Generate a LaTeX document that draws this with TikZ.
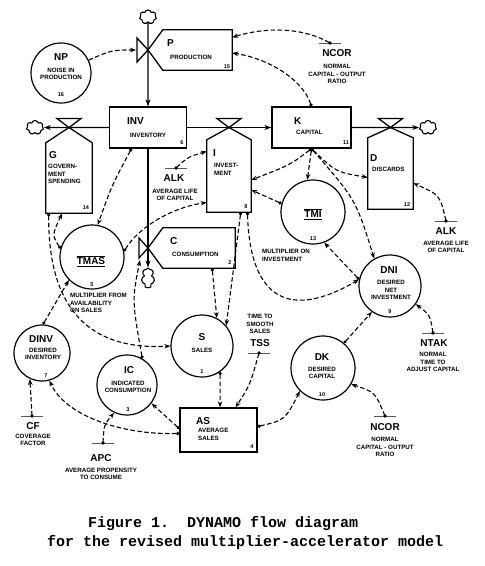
\documentclass[tikz,border=0pt]{standalone}
\usepackage{fontspec}
\setmainfont{Liberation Sans}
\setmonofont{Liberation Mono}
\usepackage{tikz}
\usetikzlibrary{arrows.meta,shapes.symbols}

\tikzset{
  lev/.style={draw,line width=1.3pt,inner sep=0pt},
  aux/.style={draw,circle,line width=1.2pt,inner sep=0pt},
  rate/.style={inner sep=0pt},
  cld/.style={cloud,draw,line width=1.1pt,cloud puffs=7,cloud ignores aspect,inner sep=0pt,minimum width=17pt,minimum height=14pt},
  cst/.style={draw,line width=1pt,minimum width=22pt,minimum height=0pt,inner sep=0pt},
  pipe/.style={line width=1.3pt},
  info/.style={line width=1.1pt,dash pattern=on 4.5pt off 2.5pt,arrows={-Stealth[length=6pt,width=4.5pt]}},
  src/.style={info,arrows={Circle[length=3.2pt]-Stealth[length=6pt,width=4.5pt]}},
  nm/.style={font=\fontsize{10}{10}\selectfont\bfseries,inner sep=0pt},
  ds/.style={font=\fontsize{6.2}{7.6}\selectfont\bfseries,align=center,inner sep=0pt},
  no/.style={font=\fontsize{5.5}{6}\selectfont\bfseries,inner sep=0pt},
  captext/.style={font=\fontsize{15}{15}\selectfont\ttfamily\bfseries,inner sep=0pt,anchor=west}
}

\begin{document}
\begin{tikzpicture}[x=1pt,y=-1pt,>=Stealth]
\useasboundingbox (0,0) rectangle (485,566);
\node[cld] (cT) at (148,17) {};
\node[cld] (cL) at (35,127.5) {};
\node[cld] (cR) at (428,127.5) {};
\node[cld,minimum width=13pt,minimum height=20pt] (cB) at (148,278) {};

\node[lev,minimum width=77pt,minimum height=41pt] (INV) at (148,127.5) {};
\node[lev,minimum width=79pt,minimum height=41pt] (K) at (311.5,127.5) {};
\node[lev,minimum width=77pt,minimum height=44pt] (AS) at (218.5,430) {};

\node[rate,minimum width=69pt,minimum height=40pt] (P) at (197.5,50) {};
\node[rate,minimum width=72pt,minimum height=40pt] (C) at (199,248) {};
\node[rate,minimum width=46pt,minimum height=70pt] (G) at (69,178) {};
\node[rate,minimum width=44pt,minimum height=72pt] (I) at (229,176) {};
\node[rate,minimum width=45pt,minimum height=71pt] (D) at (390.5,173.5) {};
\coordinate (vP) at (148,50);
\coordinate (vC) at (148,248);
\coordinate (vG) at (69,127.5);
\coordinate (vI) at (229,127.5);
\coordinate (vD) at (390.5,127.5);
\coordinate (vPin) at (136,50);
\coordinate (vCin) at (140,260);

\foreach \r in {P,C}
  \draw[pipe] (v\r) -- (\r.north west) -- (\r.north east) -- (\r.south east) -- (\r.south west) -- cycle;
\foreach \r in {G,I,D}
  \draw[pipe] (v\r) -- (\r.north east) -- (\r.south east) -- (\r.south west) -- (\r.north west) -- cycle;
\draw[pipe] (vP) -- ++(-11,-12) -- ++(0,24) -- cycle;
\draw[pipe] (vC) -- ++(-9,-10) -- ++(0,20) -- cycle;
\foreach \r in {G,I,D}
  \draw[pipe] (v\r) -- ++(-12,-9) -- ++(24,0) -- cycle;

\draw[pipe,-{Stealth[length=7pt,width=5pt]}] (cT) -- (INV);
\draw[pipe,-{Stealth[length=7pt,width=5pt]}] (INV) -- (cL);
\draw[pipe,-{Stealth[length=7pt,width=5pt]}] (INV) -- (K);
\draw[pipe,-{Stealth[length=7pt,width=5pt]}] (K) -- (cR);
\draw[pipe,-{Stealth[length=7pt,width=5pt]}] (INV) -- (cB);

\node[aux,minimum size=60pt] (NP) at (61,73) {};
\node[aux,minimum size=64pt] (TMAS) at (92,257) {};
\node[aux,minimum size=64pt] (TMI) at (313,212) {};
\node[aux,minimum size=62pt] (DNI) at (390,286) {};
\node[aux,minimum size=56pt] (DINV) at (42,353) {};
\node[aux,minimum size=62pt] (S) at (202,346) {};
\node[aux,minimum size=60pt] (IC) at (127,385) {};
\node[aux,minimum size=64pt] (DK) at (323,368) {};

\node[cst] (NCORa) at (330,43) {};
\node[cst] (ALKa) at (176,168) {};
\node[cst] (ALKb) at (446,221) {};
\node[cst] (NTAK) at (433,333) {};
\node[cst] (TSS) at (259,353) {};
\node[cst] (NCORb) at (385,416) {};
\node[cst] (CF) at (32,416) {};
\node[cst] (APC) at (103,443) {};
\foreach \c in {NCORa,ALKa,ALKb,NTAK,TSS,NCORb,CF,APC}
  \fill (\c) circle (1.8pt);

\draw[info] (NP.25) .. controls (112,50) .. (vPin);
\draw[info] (NCORa) .. controls (300,26) and (262,28) .. (P.20);
\draw[src] (K.north) .. controls (302,78) and (266,58) .. (P.-5);
\draw[info] (ALKa) .. controls (188,157) .. (I.132);
\draw[src] (K.south) .. controls (290,165) .. (I.-10);
\draw[src] (K.south) -- (TMI.100);
\draw[src] (K.south) .. controls (336,172) .. (D.190);
\draw[src] (K.south) .. controls (356,200) .. (DNI.120);
\draw[info] (ALKb) .. controls (440,195) .. (D.-23);
\draw[src] (TMI.165) -- (I.-32);
\draw[src] (DNI.168) -- (TMI.-70);
\draw[src] (I.-63) .. controls (250,300) and (290,320) .. (DNI.168);
\draw[src] (I.-72) -- (S.40);
\draw[src] (C.-57) -- (S.62);
\draw[src] (G.-120) .. controls (48,320) and (100,350) .. (S.180);
\draw[src] (TMAS.165) .. controls (52,235) .. (G.-101);
\draw[src] (INV.-128) .. controls (112,185) .. (TMAS.80);
\draw[src] (TMAS.10) .. controls (138,228) and (170,208) .. (I.230);
\draw[src] (DINV.88) -- (TMAS.225);
\draw[src] (IC.60) .. controls (132,300) .. (vCin);
\draw[info] (CF) -- (DINV.245);
\draw[info] (APC) .. controls (104,425) .. (IC.245);
\draw[src] (S.-55) -- (AS.86);
\draw[info] (TSS) .. controls (250,385) .. (AS.53);
\draw[src] (AS.178) -- (IC.-37);
\draw[src] (AS.185) .. controls (120,435) and (65,415) .. (DINV.-75);
\draw[src] (AS.5) .. controls (285,420) .. (DK.225);
\draw[src] (DK.50) -- (DNI.235);
\draw[info] (NCORb) .. controls (375,392) .. (DK.-30);
\draw[info] (NTAK) .. controls (430,315) .. (DNI.-35);

\node[nm] (NPa) at (61,57) {NP};
\node[ds] (NPb) at (61,74) {NOISE IN\\PRODUCTION};
\node[no] (NPc) at (61,95) {16};
\node[nm,anchor=west] (Pa) at (167,43) {P};
\node[ds,anchor=west] (Pb) at (170,57) {PRODUCTION};
\node[no] (Pc) at (227,67) {15};
\node[nm,anchor=west] (INVa) at (127,121) {INV};
\node[ds,anchor=west] (INVb) at (130,135) {INVENTORY};
\node[no] (INVc) at (182,143) {6};
\node[nm,anchor=west] (Ka) at (294,121) {K};
\node[ds,anchor=west] (Kb) at (296,132) {CAPITAL};
\node[no] (Kc) at (346,143) {11};
\node[nm,anchor=west] (Ga) at (49,155) {G};
\node[ds,anchor=north west,align=left] (Gb) at (48,164) {GOVERN-\\MENT\\SPENDING};
\node[no] (Gc) at (86,208) {14};
\node[nm,anchor=west] (Ia) at (213,153) {I};
\node[ds,anchor=north west,align=left] (Ib) at (214,163) {INVEST-\\MENT};
\node[no] (Ic) at (246,207) {8};
\node[nm,anchor=west] (Da) at (370,158) {D};
\node[ds,anchor=west] (Db) at (372,169) {DISCARDS};
\node[no] (Dc) at (407,205) {12};
\node[nm,anchor=west] (Ca) at (170,241) {C};
\node[ds,anchor=west] (Cb) at (172,254) {CONSUMPTION};
\node[no] (Cc) at (230,263) {2};
\node[nm,anchor=west] (ASa) at (196,421) {AS};
\node[ds,anchor=north west,align=left] (ASb) at (198,428) {AVERAGE\\SALES};
\node[no] (ASc) at (252,447) {4};

\node[nm] (TMASa) at (91,261) {$\overline{\underline{\hbox{TMAS}}}$};
\node[no] (TMASc) at (92,285) {5};
\node[ds,anchor=north west,align=left] (TMASb) at (70,293) {MULTIPLIER FROM\\AVAILABILITY\\ON SALES};
\node[nm] (TMIa) at (313,214) {$\overline{\underline{\hbox{TMI}}}$};
\node[no] (TMIc) at (313,239) {13};
\node[ds,anchor=north west,align=left] (TMIb) at (262,249) {MULTIPLIER ON\\INVESTMENT};
\node[nm] (DNIa) at (389,270) {DNI};
\node[ds] (DNIb) at (391,290) {DESIRED\\NET\\INVESTMENT};
\node[no] (DNIc) at (390,312) {9};
\node[nm] (DINVa) at (41,339) {DINV};
\node[ds] (DINVb) at (43,354) {DESIRED\\INVENTORY};
\node[no] (DINVc) at (46,376) {7};
\node[nm] (Sa) at (202,337) {S};
\node[ds] (Sb) at (202,350) {SALES};
\node[no] (Sc) at (202,372) {1};
\node[nm] (ICa) at (129,370) {IC};
\node[ds] (ICb) at (128,387) {INDICATED\\CONSUMPTION};
\node[no] (ICc) at (128,410) {3};
\node[nm] (DKa) at (322,357) {DK};
\node[ds] (DKb) at (322,373) {DESIRED\\CAPITAL};
\node[no] (DKc) at (322,395) {10};

\node[nm] (NCORaa) at (337,53) {NCOR};
\node[ds] (NCORab) at (337,74) {NORMAL\\CAPITAL - OUTPUT\\RATIO};
\node[nm] (ALKaa) at (174,178) {ALK};
\node[ds] (ALKab) at (175,195) {AVERAGE LIFE\\OF CAPITAL};
\node[nm] (ALKba) at (446,231) {ALK};
\node[ds] (ALKbb) at (446,247) {AVERAGE LIFE\\OF CAPITAL};
\node[nm] (NTAKa) at (434,343) {NTAK};
\node[ds] (NTAKb) at (433,362) {NORMAL\\TIME TO\\ADJUST CAPITAL};
\node[ds] (TSSb) at (260,324) {TIME TO\\SMOOTH\\SALES};
\node[nm] (TSSa) at (260,343) {TSS};
\node[nm] (NCORba) at (385,427) {NCOR};
\node[ds] (NCORbb) at (385,447) {NORMAL\\CAPITAL - OUTPUT\\RATIO};
\node[nm] (CFa) at (33,426) {CF};
\node[ds] (CFb) at (33,440) {COVERAGE\\FACTOR};
\node[nm] (APCa) at (101,458) {APC};
\node[ds] (APCb) at (101,474) {AVERAGE PROPENSITY\\TO CONSUME};

\node[captext] (cap1) at (88,524) {Figure 1.\ \ DYNAMO flow diagram};
\node[captext] (cap2) at (47,543) {for the revised multiplier-accelerator model};
\end{tikzpicture}
\end{document}
